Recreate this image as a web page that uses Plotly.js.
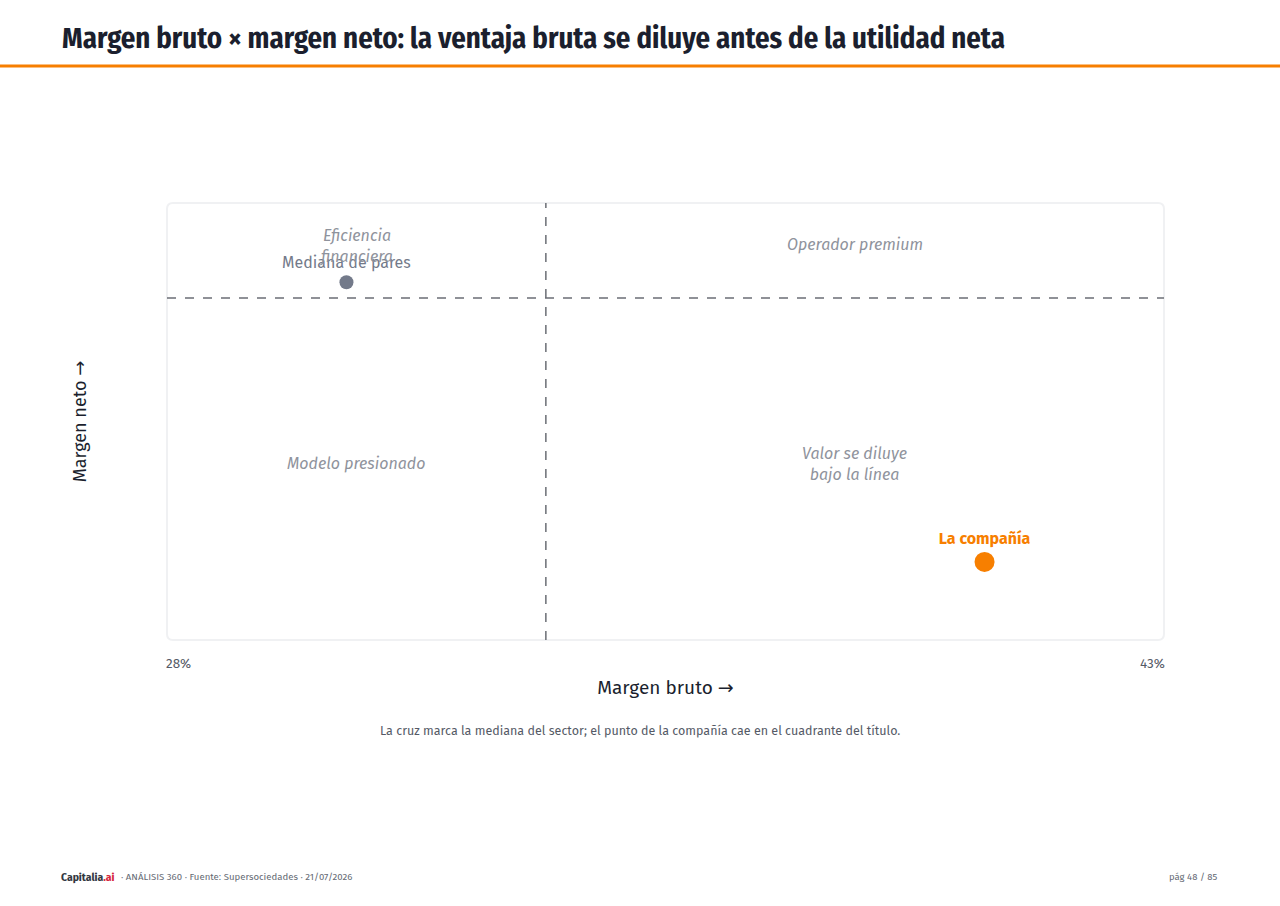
<!DOCTYPE html>
<html>
<head>
<meta charset="utf-8">
<script src="https://cdn.plot.ly/plotly-3.0.1.min.js"></script>
<style>
  html, body { margin: 0; padding: 0; background: #ffffff; }
  #chart { width: 1280px; height: 906px; }
</style>
</head>
<body>
<div id="chart"></div>
<script>
// Márgenes (%)
var grossRange = [28, 43];
var netRange = [0, 8];
var medianGross = 33.7;
var medianNet = 6.26;

var pointNames = ['Mediana de pares', 'La compañía'];
var pointGross = [30.7, 40.3];
var pointNet = [6.55, 1.43];

var quadrantLabels = ['Eficiencia<br>financiera', 'Operador premium', 'Modelo presionado', 'Valor se diluye<br>bajo la línea'];
var xTickLabels = ['28%', '43%'];

var SANS = '"Fira Sans", "Noto Sans", Roboto, sans-serif';
var NARROW = '"Fira Sans Condensed", "Fira Sans", Roboto, sans-serif';
var ARROW = '<span style="font-family:\'DejaVu Sans\'">→</span>';
var ORANGE = '#f77f00';
var GREY = '#737a8a';

// pixel helpers for page furniture (plot area 167..1164 x 203..640)
function px(x) { return (x - 167) / 997; }
function py(y) { return (640 - y) / 437; }

var peer = {
    x: [pointGross[0]], y: [pointNet[0]], text: [pointNames[0]],
    type: 'scatter', mode: 'markers+text', textposition: 'top center',
    marker: { size: 14, color: GREY },
    textfont: { family: SANS, size: 16, color: GREY },
    hoverinfo: 'skip', cliponaxis: false
};
var company = {
    x: [pointGross[1]], y: [pointNet[1]], text: ['<b>' + pointNames[1] + '</b>'],
    type: 'scatter', mode: 'markers+text', textposition: 'top center',
    marker: { size: 20, color: ORANGE },
    textfont: { family: SANS, size: 16, color: ORANGE },
    hoverinfo: 'skip', cliponaxis: false
};

var leftMid = (grossRange[0] + medianGross) / 2;
var rightMid = (medianGross + grossRange[1]) / 2;
var topMid = (medianNet + netRange[1]) / 2;
var botMid = (netRange[0] + medianNet) / 2;
var qx = [leftMid, rightMid, leftMid, rightMid];
var qy = [topMid, topMid, botMid, botMid];
var qshift = [5, 6, 6, 5];

var annotations = [];
for (var i = 0; i < quadrantLabels.length; i++) {
    annotations.push({
        x: qx[i], y: qy[i], xref: 'x', yref: 'y', text: '<i>' + quadrantLabels[i] + '</i>',
        showarrow: false, font: { family: SANS, size: 16, color: '#8f939c' }, align: 'center',
        yshift: qshift[i]
    });
}
annotations.push({
    x: grossRange[0], y: 0, xref: 'x', yref: 'paper', text: xTickLabels[0], showarrow: false,
    xanchor: 'left', yanchor: 'top', yshift: -13, xshift: -3, font: { family: SANS, size: 13.5, color: '#555a66' }
});
annotations.push({
    x: grossRange[1], y: 0, xref: 'x', yref: 'paper', text: xTickLabels[1], showarrow: false,
    xanchor: 'right', yanchor: 'top', yshift: -13, xshift: 3, font: { family: SANS, size: 13.5, color: '#555a66' }
});
// title
annotations.push({
    x: px(60), y: py(38), xref: 'paper', yref: 'paper', xanchor: 'left', yanchor: 'middle',
    text: '<b>Margen bruto × margen neto: la ventaja bruta se diluye antes de la utilidad neta</b>',
    showarrow: false, font: { family: NARROW, size: 28.7, color: '#1b1f2e' }
});
// caption
annotations.push({
    x: px(640), y: py(730), xref: 'paper', yref: 'paper', xanchor: 'center', yanchor: 'middle',
    text: 'La cruz marca la mediana del sector; el punto de la compañía cae en el cuadrante del título.',
    showarrow: false, font: { family: SANS, size: 12.5, color: '#555a66' }
});
// footer
annotations.push({
    x: px(59), y: py(877), xref: 'paper', yref: 'paper', xanchor: 'left', yanchor: 'middle',
    text: '<b>Capitalia<span style="color:#d7263d">.ai</span></b>',
    showarrow: false, font: { family: NARROW, size: 11.5, color: '#333842' }
});
annotations.push({
    x: px(119), y: py(877), xref: 'paper', yref: 'paper', xanchor: 'left', yanchor: 'middle',
    text: '· ANÁLISIS 360 · Fuente: Supersociedades · 21/07/2026',
    showarrow: false, font: { family: SANS, size: 9.6, color: '#666b75' }
});
annotations.push({
    x: px(1220), y: py(877), xref: 'paper', yref: 'paper', xanchor: 'right', yanchor: 'middle',
    text: 'pág 48 / 85',
    showarrow: false, font: { family: SANS, size: 9.5, color: '#666b75' }
});

// rounded plot frame in paper units
var rx = 6 / 997, ry = 6 / 437;
var frame = 'M ' + rx + ',0 L ' + (1 - rx) + ',0 Q 1,0 1,' + ry + ' L 1,' + (1 - ry) +
    ' Q 1,1 ' + (1 - rx) + ',1 L ' + rx + ',1 Q 0,1 0,' + (1 - ry) + ' L 0,' + ry + ' Q 0,0 ' + rx + ',0 Z';

var shapes = [
    { type: 'path', xref: 'paper', yref: 'paper', path: frame, line: { color: '#f0f1f3', width: 2 }, layer: 'below' },
    { type: 'line', xref: 'x', yref: 'paper', x0: medianGross, x1: medianGross, y0: 0, y1: 1,
      line: { color: '#6b6e75', width: 1.5, dash: 'dash' } },
    { type: 'line', xref: 'paper', yref: 'y', x0: 0, x1: 1, y0: medianNet, y1: medianNet,
      line: { color: '#6b6e75', width: 1.5, dash: 'dash' } },
    { type: 'line', xref: 'paper', yref: 'paper', x0: px(0), x1: px(1280), y0: py(66), y1: py(66),
      line: { color: ORANGE, width: 3 } }
];

var layout = {
    width: 1280, height: 906,
    margin: { l: 167, r: 116, t: 203, b: 266 },
    paper_bgcolor: '#ffffff', plot_bgcolor: '#ffffff',
    showlegend: false,
    font: { family: SANS },
    xaxis: {
        range: grossRange, showgrid: false, zeroline: false, showticklabels: false, ticks: '',
        fixedrange: true,
        title: { text: 'Margen bruto ' + ARROW, standoff: 40, font: { family: SANS, size: 19, color: '#1b1f2e' } }
    },
    yaxis: {
        range: netRange, showgrid: false, zeroline: false, showticklabels: false, ticks: '',
        fixedrange: true,
        title: { text: 'Margen neto ' + ARROW, standoff: 74, font: { family: SANS, size: 18, color: '#1b1f2e' } }
    },
    shapes: shapes,
    annotations: annotations
};

Plotly.newPlot('chart', [peer, company], layout, { displayModeBar: false, staticPlot: true });
</script>
</body>
</html>
